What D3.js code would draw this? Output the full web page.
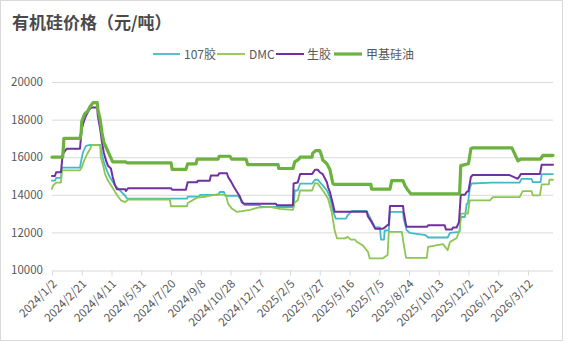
<!DOCTYPE html>
<html><head><meta charset="utf-8">
<script src="https://cdn.jsdelivr.net/npm/d3@7"></script>
<style>
html,body{margin:0;padding:0;background:#fff;}
svg{display:block;}
</style></head>
<body>
<svg id="chart" width="568" height="342"></svg>
<script>
// ---------------- data ----------------
const titleText = "有机硅价格（元/吨）";
const seriesNames = ["107胶", "DMC", "生胶", "甲基硅油"];
const yTicks = [10000, 12000, 14000, 16000, 18000, 20000];
const xTickLabels = ["2024/1/2","2024/2/21","2024/4/11","2024/5/31","2024/7/20","2024/9/8","2024/10/28","2024/12/17","2025/2/5","2025/3/27","2025/5/16","2025/7/5","2025/8/24","2025/10/13","2025/12/2","2026/1/21","2026/3/12"];
const xDomain = ["2024-01-02", "2026-04-23"];

const data107 = [
["2024-01-02",14750],["2024-01-07",14750],["2024-01-09",14900],["2024-01-17",14900],["2024-01-19",15450],
["2024-02-18",15450],["2024-02-20",15800],["2024-02-23",16250],["2024-02-28",16600],["2024-03-06",16650],
["2024-03-23",16650],["2024-03-26",16150],["2024-03-29",15750],["2024-04-03",15300],["2024-04-08",14950],
["2024-04-17",14500],["2024-04-25",14230],["2024-05-04",13950],["2024-05-07",13800],["2024-08-16",13800],
["2024-08-17",13900],["2024-09-05",13900],["2024-09-07",14000],["2024-10-07",14000],["2024-10-10",14150],
["2024-10-17",14150],["2024-10-19",13950],["2024-11-09",13950],["2024-11-16",13700],["2024-11-21",13450],
["2024-12-16",13450],["2024-12-18",13350],["2025-02-11",13350],["2025-02-13",14230],["2025-02-18",14230],
["2025-02-22",14590],["2025-03-14",14590],["2025-03-19",14800],["2025-03-24",14800],["2025-03-27",14670],
["2025-04-01",14500],["2025-04-08",14230],["2025-04-13",13880],["2025-04-18",13170],["2025-04-23",12730],
["2025-05-10",12730],["2025-05-13",12910],["2025-05-20",13140],["2025-06-14",13140],["2025-06-16",13000],
["2025-06-22",12650],["2025-06-28",12260],["2025-07-06",12260],["2025-07-08",11620],["2025-07-13",11620],
["2025-07-14",12100],["2025-07-21",12100],["2025-07-23",13090],["2025-08-14",13090],["2025-08-15",12730],
["2025-08-20",12120],["2025-08-25",11980],["2025-09-21",11850],["2025-09-25",11730],["2025-10-28",11730],
["2025-11-01",11980],["2025-11-17",12030],["2025-11-19",12820],["2025-11-26",12820],["2025-11-29",13530],
["2025-12-01",13530],["2025-12-04",14320],["2025-12-07",14600],["2026-01-10",14650],["2026-02-26",14650],
["2026-03-01",14850],["2026-03-18",14850],["2026-03-20",14670],["2026-04-02",14670],["2026-04-04",15100],
["2026-04-23",15100]
];

const dataDMC = [
["2024-01-02",14320],["2024-01-04",14500],["2024-01-09",14650],["2024-01-17",14650],["2024-01-19",15300],
["2024-02-18",15300],["2024-02-21",15460],["2024-02-25",15820],["2024-03-01",16170],["2024-03-06",16440],
["2024-03-09",16650],["2024-03-19",16650],["2024-03-23",16600],["2024-03-24",15990],["2024-03-28",15550],
["2024-03-31",15110],["2024-04-05",14760],["2024-04-12",14410],["2024-04-17",14150],["2024-04-22",13910],
["2024-04-27",13700],["2024-05-04",13610],["2024-05-09",13750],["2024-07-18",13750],["2024-07-20",13390],
["2024-08-16",13390],["2024-08-17",13560],["2024-09-02",13850],["2024-09-18",13910],["2024-10-05",14020],
["2024-10-20",14000],["2024-10-24",13530],["2024-10-30",13270],["2024-11-08",13090],["2024-11-30",13200],
["2024-12-13",13320],["2025-01-02",13360],["2025-01-19",13250],["2025-02-10",13200],["2025-02-13",13610],
["2025-02-18",13700],["2025-02-22",14230],["2025-03-14",14230],["2025-03-19",14620],["2025-03-24",14590],
["2025-03-30",14320],["2025-04-05",14060],["2025-04-10",13790],["2025-04-16",13090],["2025-04-21",12120],
["2025-04-25",11680],["2025-05-08",11680],["2025-05-13",11760],["2025-05-18",11620],["2025-05-25",11620],
["2025-05-28",11500],["2025-06-07",11320],["2025-06-16",10970],["2025-06-19",10620],["2025-07-11",10620],
["2025-07-19",10800],["2025-07-21",12030],["2025-08-12",12030],["2025-08-14",11590],["2025-08-19",10650],
["2025-09-23",10650],["2025-09-25",11230],["2025-10-20",11380],["2025-10-28",11060],["2025-11-01",11500],
["2025-11-04",11550],["2025-11-12",11700],["2025-11-17",12100],["2025-11-19",13000],["2025-12-01",13000],
["2025-12-04",13700],["2026-01-07",13700],["2026-01-12",13880],["2026-02-26",13880],["2026-03-03",14200],
["2026-03-18",14200],["2026-03-20",13970],["2026-04-01",13970],["2026-04-04",14550],["2026-04-16",14550],
["2026-04-17",14800],["2026-04-23",14800]
];

const dataRaw = [
["2024-01-02",15000],["2024-01-07",15000],["2024-01-09",15200],["2024-01-17",15200],["2024-01-20",16150],
["2024-01-24",16350],["2024-01-27",16450],["2024-02-18",16450],["2024-02-21",17500],["2024-02-25",17950],
["2024-02-28",18200],["2024-03-04",18500],["2024-03-08",18650],["2024-03-18",18650],["2024-03-19",18200],
["2024-03-23",17500],["2024-03-26",16800],["2024-03-29",16250],["2024-04-02",15800],["2024-04-05",15550],
["2024-04-10",15400],["2024-04-13",14950],["2024-04-17",14500],["2024-04-20",14300],["2024-05-04",14300],
["2024-05-05",14200],["2024-05-09",14350],["2024-07-20",14350],["2024-07-22",14270],["2024-08-14",14270],
["2024-08-17",14670],["2024-09-02",14670],["2024-09-03",14750],["2024-09-23",14750],["2024-09-25",15030],
["2024-10-07",15030],["2024-10-09",15150],["2024-10-22",15150],["2024-10-24",14950],["2024-10-29",14700],
["2024-11-03",14400],["2024-11-08",14150],["2024-11-13",13900],["2024-11-16",13600],["2024-11-19",13530],
["2025-01-12",13530],["2025-01-14",13450],["2025-02-10",13450],["2025-02-11",14600],["2025-02-18",14650],
["2025-02-22",15100],["2025-03-14",15100],["2025-03-19",15330],["2025-03-24",15330],["2025-03-27",15200],
["2025-04-01",15100],["2025-04-05",14850],["2025-04-08",14670],["2025-04-10",14400],["2025-04-13",14150],
["2025-04-18",13530],["2025-04-21",13100],["2025-06-14",13100],["2025-06-16",12850],["2025-06-22",12550],
["2025-06-28",12200],["2025-07-11",12200],["2025-07-14",12250],["2025-07-19",12400],["2025-07-21",12400],
["2025-07-23",13400],["2025-08-14",13400],["2025-08-15",13100],["2025-08-19",12400],["2025-08-20",12300],
["2025-09-23",12300],["2025-09-25",12380],["2025-10-23",12380],["2025-10-25",12150],["2025-11-04",12150],
["2025-11-06",12260],["2025-11-12",12260],["2025-11-16",12550],["2025-11-19",14000],["2025-11-26",14000],
["2025-11-29",14150],["2025-12-02",14200],["2025-12-06",14950],["2025-12-09",15050],["2026-02-09",15050],
["2026-02-23",14850],["2026-02-28",15100],["2026-04-01",15100],["2026-04-04",15600],["2026-04-23",15600]
];

const dataOil = [
["2024-01-02",16000],["2024-01-20",16000],["2024-01-22",17000],["2024-02-18",17000],["2024-02-20",17300],
["2024-02-21",17900],["2024-02-26",18300],["2024-03-02",18450],["2024-03-06",18700],["2024-03-11",18900],
["2024-03-18",18900],["2024-03-19",18550],["2024-03-23",18000],["2024-03-26",17300],["2024-03-29",16800],
["2024-04-03",16450],["2024-04-08",16100],["2024-04-13",15750],["2024-05-05",15750],["2024-05-07",15700],
["2024-07-20",15700],["2024-07-22",15350],["2024-08-14",15350],["2024-08-17",15650],["2024-08-31",15650],
["2024-09-02",15900],["2024-10-07",15900],["2024-10-09",16050],["2024-10-27",16050],["2024-10-30",15900],
["2024-11-23",15900],["2024-11-26",15600],["2025-01-16",15600],["2025-01-17",15400],["2025-02-10",15400],
["2025-02-13",15750],["2025-02-20",15900],["2025-02-22",16000],["2025-03-14",16000],["2025-03-15",16200],
["2025-03-20",16350],["2025-03-27",16350],["2025-03-30",16100],["2025-04-01",15850],["2025-04-08",15650],
["2025-04-13",15350],["2025-04-18",14600],["2025-04-21",14550],["2025-06-21",14550],["2025-06-22",14300],
["2025-07-23",14300],["2025-07-26",14750],["2025-08-14",14750],["2025-08-17",14500],["2025-08-22",14250],
["2025-08-27",14050],["2025-11-17",14050],["2025-11-19",15550],["2025-12-02",15650],["2025-12-06",16450],
["2025-12-09",16500],["2026-02-13",16500],["2026-02-23",15800],["2026-02-28",15900],["2026-04-02",15900],
["2026-04-06",16100],["2026-04-23",16100]
];

const seriesColors = ["#44BAC6", "#8DC651", "#7030A0", "#6CB23F"];
const seriesWidths = [1.8, 1.8, 2, 3.2];

// ---------------- drawing ----------------
const parse = d3.timeParse("%Y-%m-%d");
const parseLbl = d3.timeParse("%Y/%m/%d");
const svg = d3.select("#chart");
const font = "'Microsoft YaHei','Noto Sans CJK SC','Noto Sans',sans-serif";
const textColor = "#595959";

// outer frame
svg.append("rect").attr("x",0.5).attr("y",0.5).attr("width",562).attr("height",340)
  .attr("fill","#fff").attr("stroke","#D9D9D9").attr("stroke-width",1);

const x = d3.scaleTime().domain(xDomain.map(parse)).range([52, 553]);
const y = d3.scaleLinear().domain([10000, 20000]).range([270, 82]);

// title
svg.append("text").attr("x",12).attr("y",29).text(titleText)
  .attr("font-family",font).attr("font-size",17).attr("font-weight","bold").attr("fill","#4a4a4a");

// gridlines
svg.append("g").selectAll("line").data(yTicks.filter(v=>v>10000)).join("line")
  .attr("x1",52).attr("x2",553).attr("y1",d=>y(d)+0.5).attr("y2",d=>y(d)+0.5)
  .attr("stroke","#D9D9D9").attr("stroke-width",1);

// y axis labels
const yAxis = d3.axisLeft(y).tickValues(yTicks).tickSize(0).tickPadding(9).tickFormat(d3.format("d"));
const gy = svg.append("g").attr("transform","translate(52,0)").call(yAxis);
gy.select(".domain").remove();
gy.selectAll("text").attr("font-family",font).attr("font-size",11.5).attr("fill",textColor);

// x axis
const tickDates = xTickLabels.map(parseLbl);
const xAxis = d3.axisBottom(x).tickValues(tickDates).tickSize(5).tickFormat((d,i)=>xTickLabels[i]);
const gx = svg.append("g").attr("transform","translate(0,270.5)").call(xAxis);
gx.select(".domain").attr("stroke","#D9D9D9").attr("d","M52,0.5H553");
gx.selectAll(".tick line").attr("stroke","#D9D9D9");
gx.selectAll("text").attr("font-family",font).attr("font-size",11.5).attr("fill",textColor)
  .attr("text-anchor","end").attr("dy",null).attr("y",0)
  .attr("transform","translate(5,14) rotate(-45)");

// lines
const line = d3.line().x(d=>x(parse(d[0]))).y(d=>y(d[1]));
const allData = [data107, dataDMC, dataRaw, dataOil];
allData.forEach((ds,i)=>{
  svg.append("path").datum(ds).attr("d",line).attr("fill","none")
    .attr("stroke",seriesColors[i]).attr("stroke-width",seriesWidths[i])
    .attr("stroke-linejoin","round").attr("stroke-linecap","round");
});

// legend
const legendItems = [
  {x1:153, x2:180, tx:184},
  {x1:217, x2:245, tx:249},
  {x1:276, x2:304, tx:307},
  {x1:334, x2:362, tx:366}
];
const lg = svg.append("g");
legendItems.forEach((it,i)=>{
  lg.append("line").attr("x1",it.x1).attr("x2",it.x2).attr("y1",54).attr("y2",54)
    .attr("stroke",seriesColors[i]).attr("stroke-width",seriesWidths[i]);
  lg.append("text").attr("x",it.tx).attr("y",58.5).text(seriesNames[i])
    .attr("font-family",font).attr("font-size",12).attr("fill",textColor);
});
</script>
</body></html>
